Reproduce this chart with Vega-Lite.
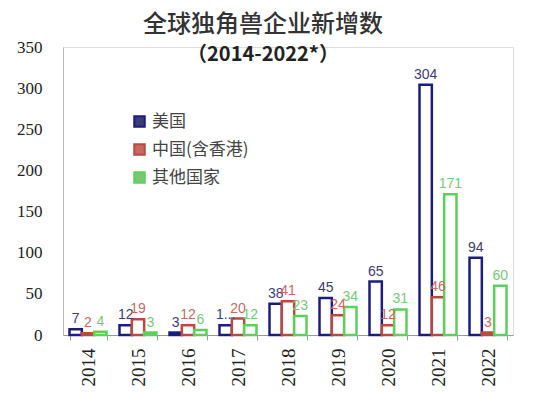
{
  "$schema": "https://vega.github.io/schema/vega-lite/v6.json",
  "autosize": "none",
  "width": 450,
  "height": 288,
  "padding": {"left": 63, "top": 47, "right": 41, "bottom": 60},
  "background": "white",
  "title": {
    "text": "全球独角兽企业新增数",
    "subtitle": "（2014-2022*）",
    "font": "Noto Sans CJK SC",
    "fontSize": 24,
    "fontWeight": 500,
    "color": "#333333",
    "subtitleFont": "Noto Sans CJK SC",
    "subtitleFontSize": 20,
    "subtitleFontWeight": "bold",
    "subtitleColor": "#222222",
    "subtitlePadding": 8,
    "anchor": "middle",
    "dx": -25,
    "offset": -27
  },
  "data": {
    "values": [
      {"year": "2014", "group": "美国", "value": 7, "label": "7"},
      {"year": "2014", "group": "中国(含香港)", "value": 2, "label": "2"},
      {"year": "2014", "group": "其他国家", "value": 4, "label": "4"},
      {"year": "2015", "group": "美国", "value": 12, "label": "12"},
      {"year": "2015", "group": "中国(含香港)", "value": 19, "label": "19"},
      {"year": "2015", "group": "其他国家", "value": 3, "label": "3"},
      {"year": "2016", "group": "美国", "value": 3, "label": "3"},
      {"year": "2016", "group": "中国(含香港)", "value": 12, "label": "12"},
      {"year": "2016", "group": "其他国家", "value": 6, "label": "6"},
      {"year": "2017", "group": "美国", "value": 12, "label": "1..."},
      {"year": "2017", "group": "中国(含香港)", "value": 20, "label": "20"},
      {"year": "2017", "group": "其他国家", "value": 12, "label": "12"},
      {"year": "2018", "group": "美国", "value": 38, "label": "38"},
      {"year": "2018", "group": "中国(含香港)", "value": 41, "label": "41"},
      {"year": "2018", "group": "其他国家", "value": 23, "label": "23"},
      {"year": "2019", "group": "美国", "value": 45, "label": "45"},
      {"year": "2019", "group": "中国(含香港)", "value": 24, "label": "24"},
      {"year": "2019", "group": "其他国家", "value": 34, "label": "34"},
      {"year": "2020", "group": "美国", "value": 65, "label": "65"},
      {"year": "2020", "group": "中国(含香港)", "value": 12, "label": "12"},
      {"year": "2020", "group": "其他国家", "value": 31, "label": "31"},
      {"year": "2021", "group": "美国", "value": 304, "label": "304"},
      {"year": "2021", "group": "中国(含香港)", "value": 46, "label": "46"},
      {"year": "2021", "group": "其他国家", "value": 171, "label": "171"},
      {"year": "2022", "group": "美国", "value": 94, "label": "94"},
      {"year": "2022", "group": "中国(含香港)", "value": 3, "label": "3"},
      {"year": "2022", "group": "其他国家", "value": 60, "label": "60"}
    ]
  },
  "encoding": {
    "x": {
      "field": "year",
      "type": "nominal",
      "scale": {"paddingInner": 0.26, "paddingOuter": 0.13},
      "axis": {
        "title": null,
        "labelAngle": -90,
        "labelFont": "Liberation Serif",
        "labelFontSize": 19,
        "labelColor": "#222222",
        "labelPadding": 8,
        "tickBand": "extent",
        "tickSize": 5,
        "tickColor": "#999999",
        "domainColor": "#999999"
      }
    },
    "xOffset": {
      "field": "group",
      "type": "nominal",
      "sort": ["美国", "中国(含香港)", "其他国家"],
      "scale": {"paddingInner": 0, "paddingOuter": 0}
    },
    "y": {
      "field": "value",
      "type": "quantitative",
      "scale": {"domain": [0, 350], "nice": false},
      "axis": {
        "title": null,
        "values": [0, 50, 100, 150, 200, 250, 300, 350],
        "grid": false,
        "ticks": false,
        "labelPadding": 21,
        "labelFont": "Liberation Serif",
        "labelFontSize": 17,
        "labelColor": "#222222",
        "domainColor": "#bbbbbb"
      }
    }
  },
  "layer": [
    {
      "mark": {"type": "bar", "fill": "white", "strokeWidth": 2.5},
      "encoding": {
        "stroke": {
          "field": "group",
          "type": "nominal",
          "scale": {
            "domain": ["美国", "中国(含香港)", "其他国家"],
            "range": ["#1c1c80", "#b84a40", "#5ccf5c"]
          },
          "legend": {
            "title": null,
            "orient": "none",
            "legendX": 68,
            "legendY": 66,
            "symbolType": "square",
            "symbolSize": 110,
            "symbolStrokeWidth": 2,
            "symbolFillColor": "white",
            "labelFont": "Noto Sans CJK SC",
            "labelFontSize": 17,
            "labelColor": "#444444",
            "labelOffset": 4,
            "rowPadding": 9
          }
        }
      }
    },
    {
      "mark": {"type": "text", "baseline": "bottom", "dy": -3, "font": "Liberation Sans", "fontSize": 14},
      "encoding": {
        "text": {"field": "label"},
        "color": {
          "field": "group",
          "type": "nominal",
          "scale": {
            "domain": ["美国", "中国(含香港)", "其他国家"],
            "range": ["#3d3d72", "#c46a62", "#78c878"]
          },
          "legend": null
        }
      }
    }
  ]
}
